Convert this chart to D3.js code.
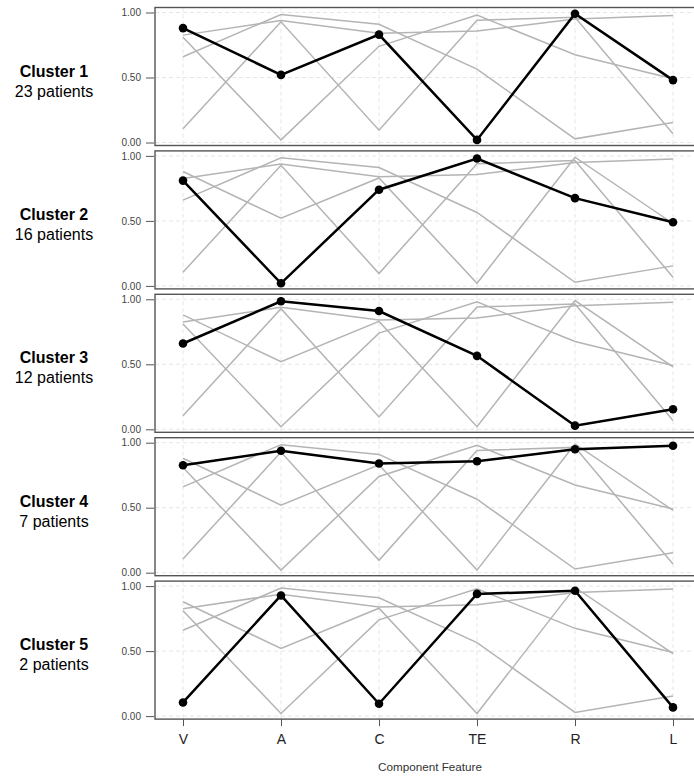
<!DOCTYPE html>
<html>
<head>
<meta charset="utf-8">
<script src="https://cdn.jsdelivr.net/npm/d3@7"></script>
<style>
  body { margin: 0; background: #fff; }
  svg { display: block; font-family: "Liberation Sans", Arial, sans-serif; }
</style>
</head>
<body>
<svg width="694" height="777"></svg>
<script>
var features = ["V", "A", "C", "TE", "R", "L"];
var clusterNames = ["Cluster 1", "Cluster 2", "Cluster 3", "Cluster 4", "Cluster 5"];
var patientCounts = [23, 16, 12, 7, 2];

var cluster1 = [0.88, 0.52, 0.83, 0.02, 0.99, 0.48];
var cluster2 = [0.81, 0.02, 0.74, 0.98, 0.675, 0.49];
var cluster3 = [0.66, 0.985, 0.91, 0.565, 0.028, 0.154];
var cluster4 = [0.826, 0.938, 0.84, 0.857, 0.95, 0.977];
var cluster5 = [0.105, 0.928, 0.095, 0.94, 0.964, 0.067];
var clusters = [cluster1, cluster2, cluster3, cluster4, cluster5];

var yTicks = [0, 0.5, 1];

var svg = d3.select("svg");

var x = d3.scalePoint()
    .domain(features)
    .range([183, 673]);

var boxLeft = 155, boxRight = 700;
var pitch = 143.4, firstTop = 12.5, unit = 130;

var line = function(yy) {
  return d3.line()
    .x(function(d, i) { return x(features[i]); })
    .y(function(d) { return yy(d); });
};

clusterNames.forEach(function(name, k) {
  var top = firstTop + k * pitch;
  var y = d3.scaleLinear().domain([0, 1]).range([top + unit, top]);
  var g = svg.append("g");

  // grid
  g.selectAll(".vgrid")
    .data(features)
    .enter().append("line")
      .attr("x1", function(d) { return x(d); })
      .attr("x2", function(d) { return x(d); })
      .attr("y1", top - 5)
      .attr("y2", top + unit + 3)
      .attr("stroke", "#e6e6e6")
      .attr("stroke-dasharray", "4,3");
  g.selectAll(".hgrid")
    .data(yTicks)
    .enter().append("line")
      .attr("x1", boxLeft)
      .attr("x2", boxRight)
      .attr("y1", function(d) { return y(d); })
      .attr("y2", function(d) { return y(d); })
      .attr("stroke", "#e6e6e6")
      .attr("stroke-dasharray", "4,3");

  // other clusters in grey
  g.selectAll(".grey")
    .data(clusters)
    .enter().append("path")
      .attr("d", line(y))
      .attr("fill", "none")
      .attr("stroke", "#b4b4b4")
      .attr("stroke-width", 1.5);

  // highlighted cluster
  g.append("path")
    .attr("d", line(y)(clusters[k]))
    .attr("fill", "none")
    .attr("stroke", "#000")
    .attr("stroke-width", 2.5);
  g.selectAll(".pt")
    .data(clusters[k])
    .enter().append("circle")
      .attr("cx", function(d, i) { return x(features[i]); })
      .attr("cy", function(d) { return y(d); })
      .attr("r", 4.3)
      .attr("fill", "#000");

  // box
  g.append("rect")
    .attr("x", boxLeft)
    .attr("y", top - 5)
    .attr("width", boxRight - boxLeft)
    .attr("height", unit + 8)
    .attr("fill", "none")
    .attr("stroke", "#555")
    .attr("stroke-width", 1.4);

  // left axis
  var ax = g.append("g")
    .attr("transform", "translate(" + (boxLeft - 1) + ",0)")
    .call(d3.axisLeft(y).tickValues(yTicks).tickSize(8).tickPadding(5)
      .tickFormat(d3.format(".2f")));
  ax.select(".domain").remove();
  ax.selectAll("line").attr("stroke", "#555");
  ax.selectAll("text").attr("font-size", 10).attr("fill", "#444")
    .attr("font-family", "Liberation Sans, Arial, sans-serif");

  // panel label
  var cy = top + unit / 2 - 1;
  g.append("text")
    .attr("x", 54)
    .attr("y", cy)
    .attr("text-anchor", "middle")
    .attr("font-size", 16)
    .attr("font-weight", "bold")
    .text(name);
  g.append("text")
    .attr("x", 54)
    .attr("y", cy + 20)
    .attr("text-anchor", "middle")
    .attr("font-size", 16)
    .text(patientCounts[k] + " patients");

  if (k === clusterNames.length - 1) {
    var bx = g.append("g")
      .attr("transform", "translate(0," + (top + unit + 3) + ")")
      .call(d3.axisBottom(x).tickSize(7).tickPadding(8));
    bx.select(".domain").remove();
    bx.selectAll("line").attr("stroke", "#555");
    bx.selectAll("text").attr("font-size", 14).attr("fill", "#222")
      .attr("font-family", "Liberation Sans, Arial, sans-serif");

    svg.append("text")
      .attr("x", 430)
      .attr("y", 771)
      .attr("text-anchor", "middle")
      .attr("font-size", 11.7)
      .attr("fill", "#333")
      .text("Component Feature");
  }
});
</script>
</body>
</html>
